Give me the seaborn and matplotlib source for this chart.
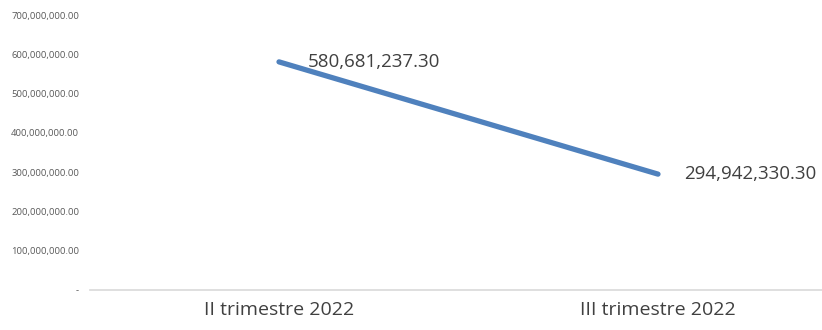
import matplotlib
matplotlib.use("Agg")
import matplotlib.pyplot as plt
import seaborn as sns
import pandas as pd
from matplotlib.ticker import FuncFormatter

periods = ["II trimestre 2022", "III trimestre 2022"]
values = [580681237.30, 294942330.30]
y_ticks = [0, 100e6, 200e6, 300e6, 400e6, 500e6, 600e6, 700e6]

sns.set_style("white")
plt.rcParams["font.family"] = ["Open Sans", "DejaVu Sans"]

df = pd.DataFrame({"period": periods, "value": values})
df["x"] = range(len(df))

fig = plt.figure(figsize=(8.22, 3.3), dpi=100)
# axis runs past the right edge, like the cropped original
ax = fig.add_axes([89.5 / 822, 40 / 330, 758 / 822, 275 / 330])

sns.lineplot(data=df, x="x", y="value", color="#4F81BD", linewidth=3.8,
             ax=ax, sort=False, solid_capstyle="round")

ax.set_xlim(-0.5, 1.5)
ax.set_ylim(0, 700e6)
ax.set_yticks(y_ticks)
ax.yaxis.set_major_formatter(FuncFormatter(lambda v, p: "-" if v == 0 else f"{v:,.2f}"))
ax.set_xticks(df["x"])
ax.set_xticklabels(periods)
ax.tick_params(axis="y", labelsize=6.8, labelcolor="#595959", length=0, pad=7.5)
ax.tick_params(axis="x", labelsize=14, labelcolor="#404040", length=0, pad=8)
ax.set_xlabel("")
ax.set_ylabel("")

for s in ["top", "right", "left"]:
    ax.spines[s].set_visible(False)
ax.spines["bottom"].set_color("#d9d9d9")
ax.spines["bottom"].set_linewidth(1.2)

ax.annotate(f"{values[0]:,.2f}", (0, values[0]), xytext=(21, 0), textcoords="offset points",
            ha="left", va="center", fontsize=13.5, color="#404040")
ax.annotate(f"{values[1]:,.2f}", (1, values[1]), xytext=(19, 0), textcoords="offset points",
            ha="left", va="center", fontsize=13.5, color="#404040")

fig.savefig("out.png", dpi=100)
